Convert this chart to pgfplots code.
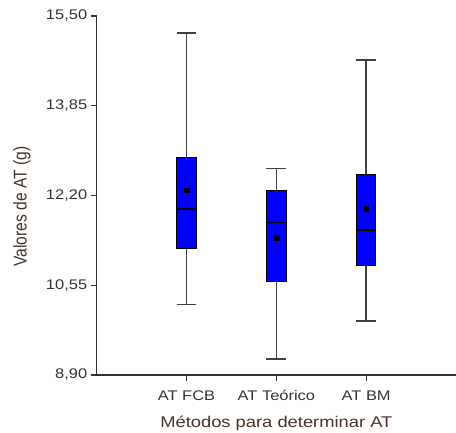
\documentclass[border=0pt]{standalone}
\usepackage{fontspec}
\setmainfont{Liberation Sans}[FakeStretch=1.18]
\newfontfamily\plainsans{Liberation Sans}
\usepackage{graphicx}
\usepackage{pgfplots}
\pgfplotsset{compat=1.18}
\usepgfplotslibrary{statistics}
\definecolor{tickc}{RGB}{51,51,51}
\definecolor{labc}{RGB}{70,52,40}
\definecolor{whisk}{RGB}{64,64,64}
\begin{document}
\begin{tikzpicture}
\path[use as bounding box] (-96.7bp,-58bp) rectangle (359.3bp,375bp);
\begin{axis}[
  scale only axis, width=359.3bp, height=359bp,
  xmin=0, xmax=4, ymin=8.9, ymax=15.5,
  axis x line=bottom, axis y line=left,
  axis line style={-, color=tickc, line width=1.2bp},
  xtick={1,2,3}, xticklabels={AT FCB, AT Teórico, AT BM},
  ytick={8.9,10.55,12.2,13.85,15.5},
  yticklabels={{8,90},{10,55},{12,20},{13,85},{15,50}},
  tick align=outside, major tick length=6bp,
  tick style={color=tickc, line width=1.2bp},
  ticklabel style={font=\fontsize{14}{16}\selectfont, text=tickc},
  xticklabel style={yshift=-6bp},
  xlabel={Métodos para determinar AT},
  xlabel style={at={(axis description cs:0.5,-0.134)}, anchor=center, font=\fontsize{15.6}{18}\selectfont, text=labc},
  ylabel={\plainsans\fontsize{15.7}{18}\selectfont\scalebox{1}[1.18]{Valores de AT (g)}},
  ylabel style={at={(axis description cs:-0.208,0.469)}, anchor=center, text=labc},
  boxplot/draw direction=y,
  boxplot/every whisker/.style={draw=whisk, line width=1.5bp},
  boxplot/every median/.style={draw=black, line width=1.5bp},
]
\addplot+[mark=none, fill=blue, draw=black, line width=1bp, boxplot prepared={draw position=1, lower whisker=10.20, lower quartile=11.23, median=11.95, upper quartile=12.89, upper whisker=15.19, box extend=0.215, whisker extend=0.22}] coordinates {};
\addplot+[mark=none, fill=blue, draw=black, line width=1bp, boxplot prepared={draw position=2, lower whisker=9.19, lower quartile=10.62, median=11.70, upper quartile=12.30, upper whisker=12.70, box extend=0.215, whisker extend=0.22}] coordinates {};
\addplot+[mark=none, fill=blue, draw=black, line width=1bp, boxplot prepared={draw position=3, lower whisker=9.89, lower quartile=10.92, median=11.57, upper quartile=12.59, upper whisker=14.69, box extend=0.215, whisker extend=0.22}] coordinates {};
\addplot[only marks, mark=square*, mark size=2.4bp, mark options={fill=black, draw=black, line width=0.3bp}] coordinates {(1,12.30) (2,11.43) (3,11.96)};
\end{axis}
\end{tikzpicture}
\end{document}
